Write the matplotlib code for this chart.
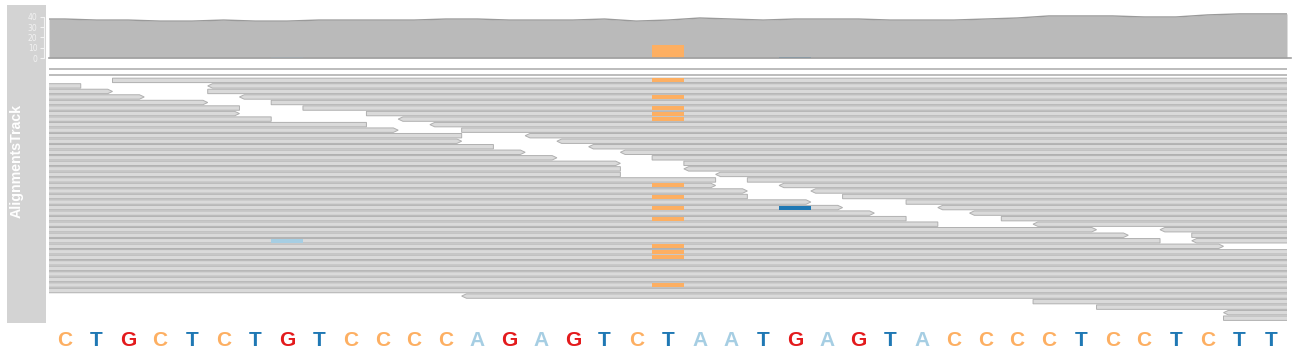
"""AlignmentsTrack: coverage, stacked reads and reference sequence"""
import numpy as np
import matplotlib.pyplot as plt
from matplotlib.patches import Polygon, Rectangle

# reference sequence shown under the reads (one letter per base)
ref_seq = "CTGCTCTGTCCCCAGAGTCTAATGAGTACCCCTCCTCTT"
base_col = {'A': '#A6CEE3', 'C': '#FDAF62', 'G': '#E31A1C', 'T': '#1F78B4'}

# reads: row, start, end (in bases from left edge of view), strand
read_row = [2, 3, 3, 4, 4, 5, 5, 6, 6, 7, 7, 8, 8, 9, 9, 10, 10, 11, 11, 12, 12,
            13, 13, 14, 14, 15, 15, 16, 16, 17, 17, 18, 18, 19, 19, 20, 20, 21, 21,
            22, 22, 23, 23, 24, 24, 25, 25, 26, 26, 27, 27, 28, 28, 29, 29, 30, 30,
            31, 31, 32, 33, 34, 35, 36, 37, 38, 39, 40, 41, 42, 43, 44, 45]
read_start = [2, -3, 5, -3, 5, -3, 6, -3, 7, -3, 8, -3, 10, -3, 11, -3, 12, -3, 13,
              -3, 15, -3, 16, -3, 17, -3, 18, -3, 19, -3, 20, -3, 20, -3, 21, -3, 22,
              -3, 23, -3, 24, -3, 25, -3, 27, -3, 28, -3, 29, -3, 30, -3, 31, -3, 35,
              -3, 36, -3, 36, -3, -3, -3, -3, -3, -3, -3, -3, -3, 13, 31, 33, 37, 37]
read_end = [42, 1, 42, 2, 42, 3, 42, 5, 42, 6, 42, 6, 42, 7, 42, 10, 42, 11, 42,
            13, 42, 13, 42, 14, 42, 15, 42, 16, 42, 18, 42, 18, 42, 18, 42, 21, 42,
            21, 42, 22, 42, 22, 42, 24, 42, 25, 42, 26, 42, 27, 42, 28, 42, 33, 42,
            34, 42, 35, 42, 37, 42, 42, 42, 42, 42, 42, 42, 42, 42, 42, 42, 42, 42]
read_strand = ['+', '-', '-', '+', '+', '+', '-', '+', '+', '-', '+', '+', '+', '-', '-',
               '-', '-', '+', '+', '-', '-', '+', '-', '-', '-', '+', '-', '+', '+', '+',
               '+', '-', '-', '-', '-', '-', '+', '+', '-', '+', '-', '-', '+', '+', '+',
               '+', '-', '+', '-', '-', '+', '-', '-', '+', '-', '+', '+', '-', '-', '+',
               '+', '+', '+', '+', '+', '+', '+', '+', '-', '+', '+', '-', '+']
pair_rows = [0, 1]  # mates outside the view, only the connector is visible

# mismatching bases: row, base index, read base
mm_row = [2, 5, 7, 8, 9, 21, 23, 25, 27, 32, 33, 34, 39, 25, 31]
mm_base = [19, 19, 19, 19, 19, 19, 19, 19, 19, 19, 19, 19, 19, 23, 7]
mm_letter = ['C'] * 13 + ['T', 'A']

n_base = len(ref_seq)
W, H = 1296, 360
fig = plt.figure(figsize=(W / 100, H / 100), dpi=100)


def px_axes(x0, y0, x1, y1):
    return fig.add_axes([x0 / W, 1 - y1 / H, (x1 - x0) / W, (y1 - y0) / H])


# title panel
ax_lab = px_axes(7, 5, 46, 323)
ax_lab.set_facecolor('#D3D3D3')
ax_lab.set_xticks([]); ax_lab.set_yticks([])
for s in ax_lab.spines.values():
    s.set_visible(False)
ax_lab.text(0.24, 0.51, 'AlignmentsTrack', rotation=90, color='white',
            fontsize=10.2, fontweight='bold', family='Liberation Sans',
            ha='center', va='center', transform=ax_lab.transAxes)

# coverage
cov = np.zeros(n_base)
for s, e in zip(read_start, read_end):
    for b in range(n_base):
        if s <= b and e >= b + 1:
            cov[b] += 1
xs = np.concatenate([[0], np.arange(n_base) + 0.5, [n_base]])
ys = np.concatenate([[cov[0]], cov, [cov[-1]]])

ax_cov = px_axes(49, 10, 1287, 58)
ax_cov.set_xlim(0, n_base)
ax_cov.set_ylim(0, 46.8)
ax_cov.set_facecolor('none')
ax_cov.fill_between(xs, 0, ys, color='#BABABA', lw=0)
ax_cov.plot(xs, ys, color='#9A9A9A', lw=1)
ax_cov.axhline(0, color='#A0A0A0', lw=1.2, xmax=1.003, clip_on=False)
mm_cov = {}
for b, l in zip(mm_base, mm_letter):
    mm_cov[(b, l)] = mm_cov.get((b, l), 0) + 1
for (b, l), n in mm_cov.items():
    ax_cov.bar(b + 0.5, n, width=1, color=base_col[l], lw=0)
for s in ['top', 'right', 'bottom']:
    ax_cov.spines[s].set_visible(False)
ax_cov.spines['left'].set_position(('outward', 3.3))
ax_cov.spines['left'].set_bounds(0, 40)
ax_cov.spines['left'].set_color('#F2F2F2')
ax_cov.set_xticks([])
ax_cov.set_yticks([0, 10, 20, 30, 40])
ax_cov.tick_params(axis='y', colors='#F2F2F2', labelsize=5.5, length=3, width=0.8, pad=2)

# reads
ax_r = px_axes(49, 66, 1287, 322)
ax_r.set_xlim(0, n_base)
ax_r.set_ylim(45.69, -0.6)
ax_r.axis('off')
h = 0.4
aw = 0.15
for r in pair_rows:
    ax_r.plot([-3, 42], [r, r], color='#AAAAAA', lw=1.1)
for r, s, e, st in zip(read_row, read_start, read_end, read_strand):
    if st == '+':
        pts = [(s, r - h), (e - aw, r - h), (e, r), (e - aw, r + h), (s, r + h)]
    else:
        pts = [(s + aw, r - h), (e, r - h), (e, r + h), (s + aw, r + h), (s, r)]
    ax_r.add_patch(Polygon(pts, closed=True, facecolor='#DADADA',
                           edgecolor='#B0B0B0', lw=0.7))
hm = 0.36
for r, b, l in zip(mm_row, mm_base, mm_letter):
    ax_r.add_patch(Rectangle((b, r - hm), 1, 2 * hm, facecolor=base_col[l], lw=0))

# reference sequence
ax_s = px_axes(49, 328, 1287, 354)
ax_s.set_xlim(0, n_base)
ax_s.set_ylim(0, 1)
ax_s.axis('off')
for i, ch in enumerate(ref_seq):
    ax_s.text(i + 0.5, 0.5, ch, color=base_col[ch], fontsize=15, fontweight='bold',
              family='Liberation Sans', ha='center', va='center')

plt.savefig('out.png', dpi=100)
